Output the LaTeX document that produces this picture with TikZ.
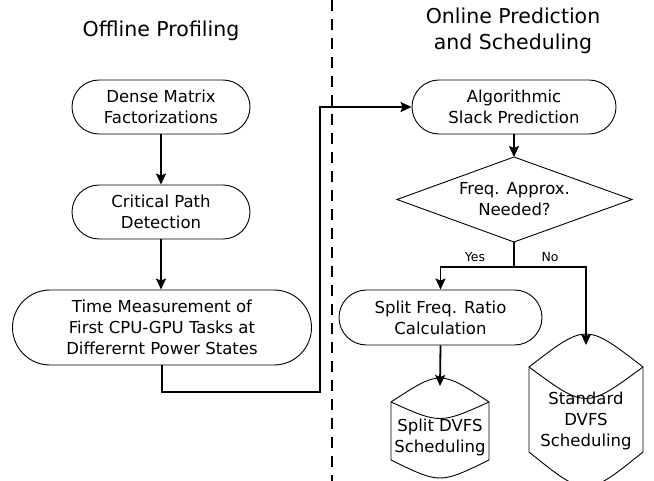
\documentclass[tikz,border=0pt]{standalone}
\usepackage{fontspec}
\setmainfont{DejaVu Sans}
\usetikzlibrary{shapes.misc,shapes.geometric,arrows.meta}
\begin{document}
\begin{tikzpicture}[x=1pt,y=-1pt,
  box/.style={draw=black, line width=0.9pt, rounded rectangle, inner sep=0pt, align=center, font=\fontsize{16.5}{21}\selectfont},
  txt/.style={align=center, inner sep=0pt, font=\fontsize{16.5}{21}\selectfont},
  ttl/.style={align=center, inner sep=0pt, font=\fontsize{20.5}{26}\selectfont},
  lbl/.style={inner sep=0pt, font=\fontsize{12.5}{15}\selectfont},
  conn/.style={line width=1.8pt, -{Stealth[length=11pt,width=10pt,inset=2pt]}},
  plainln/.style={line width=1.8pt},
  shp/.style={draw=black, line width=0.9pt},
  divider/.style={line width=1.8pt, dash pattern=on 11pt off 8pt}]
\useasboundingbox (0,0) rectangle (654,481);

% titles and divider
\node[ttl] (t1) at (161,31) {Offline Profiling};
\node[ttl] (t2) at (513,31) {Online Prediction\\and Scheduling};
\coordinate (dtop) at (332,0);
\coordinate (dbot) at (332,481);
\draw[divider] (dtop) -- (dbot);

% left column
\node[box, minimum width=178pt, minimum height=54pt] (dense) at (161,107) {Dense Matrix\\Factorizations};
\node[box, minimum width=178pt, minimum height=54pt] (crit) at (161,212) {Critical Path\\Detection};
\node[box, minimum width=299pt, minimum height=75pt] (time) at (162,327.5) {Time Measurement of\\First CPU-GPU Tasks at\\Differernt Power States};

% right column
\node[box, minimum width=204pt, minimum height=54pt] (algo) at (514,107) {Algorithmic\\Slack Prediction};
\coordinate (dleft) at (397,199.5);
\coordinate (dtopc) at (514,157);
\coordinate (dright) at (632,199.5);
\coordinate (dbotc) at (514,242);
\draw[shp] (dleft) -- (dtopc) -- (dright) -- (dbotc) -- cycle;
\node[txt] (dia) at (514.5,199.5) {Freq. Approx.\\Needed?};
\node[box, minimum width=203pt, minimum height=55pt] (split) at (440.5,317.5) {Split Freq. Ratio\\Calculation};

% tape shapes
\draw[shp] (391,402) .. controls (440,370) .. (489,402) -- (489,460) .. controls (440,484) .. (391,460) -- cycle;
\draw[shp] (391,402) .. controls (440,424) .. (489,402);
\node[txt] (sdv) at (440,437) {Split DVFS\\Scheduling};
\coordinate (sdvtop) at (440,386);

\draw[shp] (529,367) .. controls (586,323) .. (643,367) -- (643,452) .. controls (586,498) .. (529,452) -- cycle;
\draw[shp] (529,367) .. controls (586,409) .. (643,367);
\node[txt] (std) at (586,421) {Standard\\DVFS\\Scheduling};
\coordinate (stdtop) at (586,345);

% connectors
\draw[conn] (dense.south) -- (crit.north);
\draw[conn] (crit.south -| dense.south) -- (time.north -| dense.south);
\coordinate (elbow) at (320,392);
\draw[conn] (time.south) |- (elbow) |- (algo.west);
\draw[conn] (algo.south) -- (dtopc);
\coordinate (br) at (514,267);
\draw[plainln] (dbotc) -- (br);
\draw[conn] (br) -| (split.north);
\draw[conn] (br) -| (stdtop);
\draw[conn] (split.south) -- (sdvtop);

\node[lbl] (yes) at (475,257) {Yes};
\node[lbl] (no) at (550,257) {No};
\end{tikzpicture}
\end{document}
